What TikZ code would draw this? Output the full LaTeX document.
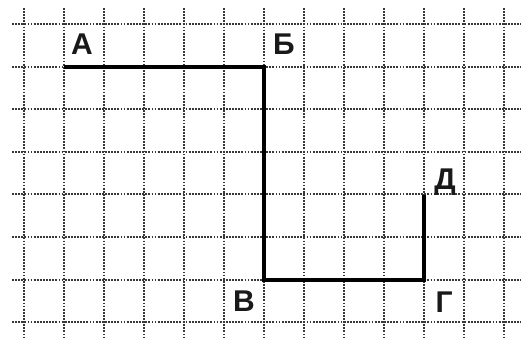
\documentclass[tikz,border=0pt]{standalone}
\usepackage{fontspec}
\setmainfont{Liberation Sans}
\begin{document}
\begin{tikzpicture}[x=1pt,y=-1pt,
  gridline/.style={draw=black!78, line width=2pt, dash pattern=on 1.8pt off 1.3pt},
  figline/.style={draw=black, line width=3.2pt, line cap=butt, line join=miter},
  lbl/.style={font=\fontsize{30}{30}\selectfont\bfseries, inner sep=0pt, anchor=base, text=black!90}]
\useasboundingbox (0,0) rectangle (521,339);
\fill[white] (0,0) rectangle (521,339);
% grid
\foreach \k in {0,...,7} {
  \draw[gridline] (12,{24+42.6*\k}) -- (521,{24+42.6*\k});
}
\foreach \k in {0,...,12} {
  \draw[gridline] ({24+40*\k},8) -- ({24+40*\k},339);
}
% vertices
\coordinate (A) at (64,67);
\coordinate (B) at (264,67);
\coordinate (V) at (264,280);
\coordinate (G) at (424,280);
\coordinate (D) at (424,195);
\draw[figline] (A) -- (B) -- (V) -- (G) -- (D);
% labels
\node[lbl] (lA) at (82,55) {А};
\node[lbl] (lB) at (284,55) {Б};
\node[lbl] (lD) at (445,189) {Д};
\node[lbl] (lG) at (444,312) {Г};
\node[lbl] (lV) at (244,311) {В};
\end{tikzpicture}
\end{document}
